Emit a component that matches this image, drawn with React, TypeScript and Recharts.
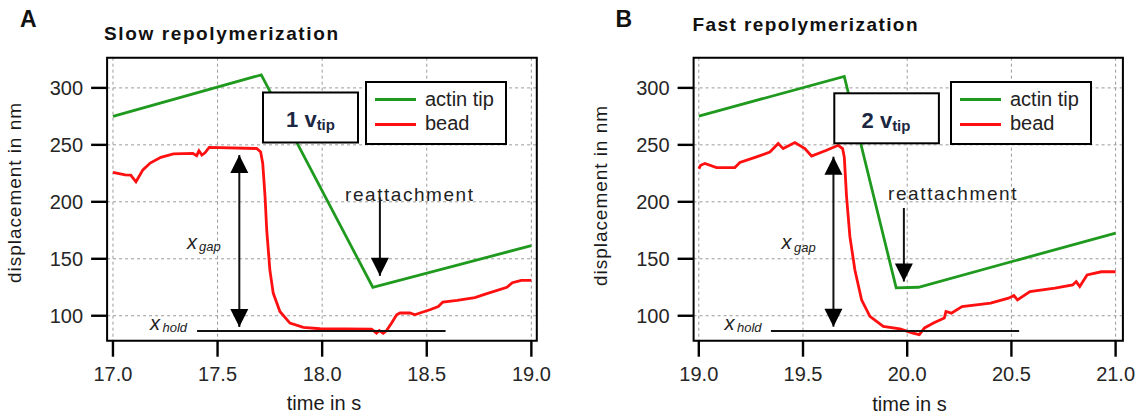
import {
  CartesianGrid,
  Legend,
  Line,
  LineChart,
  ReferenceArea,
  ReferenceDot,
  ReferenceLine,
  XAxis,
  YAxis,
} from 'recharts';

const FONT = '"Liberation Sans", Arial, sans-serif';
const GREEN = '#1f9a1f';
const RED = '#ff1010';
const INK = '#1a1a1a';

// shared axis values
const yTicks = [100, 150, 200, 250, 300];
const yDomain = [78.1, 326.5];

// panel A - slow repolymerization
const xTicksA = [17, 17.5, 18, 18.5, 19];
const tipTimeA = [17.0, 17.709, 18.242, 19.0];
const tipNmA = [275, 311.5, 125, 161.5];
const beadTimeA = [
  17.0, 17.058, 17.085, 17.11, 17.143, 17.178, 17.229, 17.289, 17.382, 17.4, 17.411, 17.425,
  17.44, 17.46, 17.687, 17.706, 17.716, 17.727, 17.735, 17.75, 17.766, 17.798, 17.846, 17.91,
  17.99, 18.236, 18.26, 18.273, 18.292, 18.308, 18.332, 18.356, 18.372, 18.42, 18.443, 18.467,
  18.515, 18.555, 18.577, 18.645, 18.73, 18.78, 18.883, 18.909, 18.952, 19.0,
];
const beadNmA = [
  225.9, 223.7, 223.5, 217.6, 228, 234, 239, 242, 242.5, 240.5, 244.8, 241,
  243, 247.8, 246.8, 243.8, 233.6, 204.5, 175.3, 140.3, 119.9, 103.8, 93.6, 89.8,
  88.6, 88.3, 84.7, 87, 84.7, 87, 93.6, 100.9, 102.4, 102.4, 100.9, 102.4,
  105.3, 108.1, 112, 113.5, 116, 119, 125, 129, 131, 131,
];

// panel B - fast repolymerization
const xTicksB = [19, 19.5, 20, 20.5, 21];
const tipTimeB = [19.0, 19.698, 19.947, 20.054, 21.0];
const tipNmB = [275.3, 310, 124.5, 125, 172.6];
const beadTimeB = [
  19.0, 19.009, 19.029, 19.085, 19.173, 19.197, 19.277, 19.341, 19.381, 19.405, 19.461, 19.509,
  19.541, 19.613, 19.669, 19.69, 19.698, 19.709, 19.725, 19.749, 19.781, 19.821, 19.885, 19.965,
  20.023, 20.058, 20.083, 20.126, 20.178, 20.186, 20.212, 20.263, 20.4, 20.486, 20.512, 20.529,
  20.589, 20.709, 20.794, 20.811, 20.828, 20.863, 20.931, 21.0,
];
const beadNmB = [
  229, 232.1, 233.6, 230.1, 230.1, 234.5, 239.4, 243.7, 251.1, 246.7, 252, 246.7,
  240.2, 245.2, 249.6, 246.7, 239.4, 204.4, 169.4, 140.2, 114, 99.4, 90.6, 88.4,
  84.9, 83.4, 89.3, 93.6, 98, 103.8, 102.3, 108, 111, 115.4, 117.7, 114,
  121.2, 124.2, 127, 130, 125.6, 135.8, 138.6, 138.6,
];

// annotation anchors: [gap arrow time, gap top nm, gap bottom nm]
const gapA = [17.604, 241, 90.1];
const gapB = [19.646, 239.6, 90.4];
// [hold from, hold to, hold nm]
const holdA = [17.402, 18.59, 86.6];
const holdB = [19.346, 20.537, 86.6];
// [reattachment time, shaft top nm, tip nm]
const reA = [18.276, 204, 135];
const reB = [19.984, 194.6, 130];

const zip = (t: number[], v: number[]) => t.map((x, i) => ({ t: x, nm: v[i] }));

const PLOT_TOP = 57.7;
const PLOT_BOTTOM = 340.7;
const TICK = 16;

const layoutA = { left: 0, frameL: 107.1, frameR: 536.8, xDomain: [16.972, 19.026], xTicks: xTicksA, legendLeft: 365 };
const layoutB = { left: 571, frameL: 122.6, frameR: 551.9, xDomain: [18.975, 21.035], xTicks: xTicksB, legendLeft: 378.6 };

const upHead = (p: any) => (
  <polygon points={`${p.cx},${p.cy} ${p.cx - 9},${p.cy + 18} ${p.cx + 9},${p.cy + 18}`} fill="#000" />
);
const downHead = (p: any) => (
  <polygon points={`${p.cx},${p.cy} ${p.cx - 9},${p.cy - 18} ${p.cx + 9},${p.cy - 18}`} fill="#000" />
);

function LegendBox({ payload }: any) {
  return (
    <svg width={142} height={64} style={{ display: 'block', overflow: 'visible' }}>
      <rect x={1} y={1} width={140} height={62} fill="#fff" stroke="#000" strokeWidth={2} />
      {(payload || []).map((item: any, i: number) => (
        <g key={item.value}>
          <line x1={10} x2={51} y1={18.5 + i * 25} y2={18.5 + i * 25} stroke={item.color} strokeWidth={3} />
          <text x={60} y={24.5 + i * 24.5} fontSize={20} fill="#222" fontFamily={FONT}>
            {item.value}
          </text>
        </g>
      ))}
    </svg>
  );
}

type Layout = typeof layoutA;
type PanelProps = {
  lay: Layout;
  tip: { t: number; nm: number }[];
  bead: { t: number; nm: number }[];
  gap: number[];
  hold: number[];
  re: number[];
};

function Panel({ lay, tip, bead, gap, hold, re }: PanelProps) {
  const W = 571;
  const H = 415;
  const { left, frameL, frameR, xDomain, xTicks, legendLeft } = lay;
  const tickText = { fontSize: 20, fill: '#262626' };
  return (
    <LineChart
      width={W}
      height={H}
      style={{ position: 'absolute', left, top: 0 }}
      margin={{ top: PLOT_TOP, right: W - frameR, bottom: H - PLOT_BOTTOM - 30, left: frameL - 50 }}
    >
      <CartesianGrid stroke="#9a9a9a" strokeDasharray="3 3" />
      <XAxis
        type="number"
        dataKey="t"
        domain={xDomain}
        allowDataOverflow
        ticks={xTicks}
        interval={0}
        tickFormatter={(v) => v.toFixed(1)}
        height={30}
        tickSize={17}
        tickMargin={9}
        axisLine={false}
        tickLine={false}
        tick={tickText}
      />
      <YAxis
        type="number"
        domain={yDomain}
        allowDataOverflow
        ticks={yTicks}
        interval={0}
        width={50}
        tickSize={16}
        tickMargin={8}
        axisLine={false}
        tickLine={false}
        tick={tickText}
      />
      <ReferenceArea
        x1={xDomain[0]}
        x2={xDomain[1]}
        y1={yDomain[0]}
        y2={yDomain[1]}
        fill="none"
        stroke="#000"
        strokeWidth={2}
        ifOverflow="visible"
      />
      <Line
        data={tip}
        dataKey="nm"
        name="actin tip"
        type="linear"
        stroke={GREEN}
        strokeWidth={2.8}
        dot={false}
        isAnimationActive={false}
      />
      <Line
        data={bead}
        dataKey="nm"
        name="bead"
        type="linear"
        stroke={RED}
        strokeWidth={2.8}
        dot={false}
        isAnimationActive={false}
      />
      <ReferenceLine
        segment={[{ x: hold[0], y: hold[2] }, { x: hold[1], y: hold[2] }]}
        stroke="#111"
        strokeWidth={2}
      />
      <ReferenceLine
        segment={[{ x: gap[0], y: gap[1] }, { x: gap[0], y: gap[2] }]}
        stroke="#111"
        strokeWidth={2}
      />
      <ReferenceDot x={gap[0]} y={gap[1]} r={1} shape={upHead} />
      <ReferenceDot x={gap[0]} y={gap[2]} r={1} shape={downHead} />
      <ReferenceLine
        segment={[{ x: re[0], y: re[1] }, { x: re[0], y: re[2] }]}
        stroke="#111"
        strokeWidth={2}
      />
      <ReferenceDot x={re[0]} y={re[2]} r={1} shape={downHead} />
      <Legend
        layout="vertical"
        align="center"
        verticalAlign="middle"
        wrapperStyle={{ left: legendLeft, top: 80.5, width: 142, height: 64 }}
        content={LegendBox}
      />
    </LineChart>
  );
}

// outer tick marks of one panel, placed from the same domain / frame numbers the chart uses
function TickMarks({ lay }: { lay: Layout }) {
  const [d0, d1] = lay.xDomain;
  const px = (t: number) => lay.left + lay.frameL + ((t - d0) / (d1 - d0)) * (lay.frameR - lay.frameL);
  const py = (v: number) => PLOT_TOP + ((yDomain[1] - v) / (yDomain[1] - yDomain[0])) * (PLOT_BOTTOM - PLOT_TOP);
  const x0 = lay.left + lay.frameL;
  return (
    <g stroke="#000" strokeWidth={2.4}>
      {lay.xTicks.map((t) => (
        <line key={`x${t}`} x1={px(t)} x2={px(t)} y1={PLOT_BOTTOM} y2={PLOT_BOTTOM + TICK} />
      ))}
      {yTicks.map((v) => (
        <line key={`y${v}`} x1={x0 - TICK} x2={x0} y1={py(v)} y2={py(v)} />
      ))}
    </g>
  );
}

function Overlay() {
  const it = { fontStyle: 'italic' as const, fill: '#222' };
  return (
    <svg
      width={1142}
      height={415}
      style={{ position: 'absolute', left: 0, top: 0, pointerEvents: 'none' }}
      fontFamily={FONT}
    >
      <TickMarks lay={layoutA} />
      <TickMarks lay={layoutB} />

      {/* panel A */}
      <text x={20} y={27} fontSize={23} fontWeight="bold" fill="#111">A</text>
      <text x={104} y={40} fontSize={19} fontWeight="bold" fill="#111" textLength={234}>
        Slow repolymerization
      </text>
      <text transform="translate(21,193) rotate(-90)" textAnchor="middle" fontSize={19} fill={INK} textLength={180}>
        displacement in nm
      </text>
      <text x={324} y={410} textAnchor="middle" fontSize={20} fill={INK}>time in s</text>
      <rect x={263} y={92.5} width={95} height={50} fill="#fff" stroke="#000" strokeWidth={2} />
      <text x={310.5} y={127} textAnchor="middle" fontSize={22} fontWeight="bold" fill="#1c2742">
        1 v<tspan fontSize={15} dy={3}>tip</tspan>
      </text>
      <text x={187} y={248.5} fontSize={20} {...it}>x</text>
      <text x={199} y={251} fontSize={13} {...it}>gap</text>
      <text x={150} y={330} fontSize={20} {...it}>x</text>
      <text x={162.5} y={331.5} fontSize={13} {...it}>hold</text>
      <text x={345} y={200.5} fontSize={19} fill="#222" textLength={128}>reattachment</text>

      {/* panel B */}
      <text x={615.5} y={26.5} fontSize={23} fontWeight="bold" fill="#111">B</text>
      <text x={692.5} y={31} fontSize={19} fontWeight="bold" fill="#111" textLength={225}>
        Fast repolymerization
      </text>
      <text transform="translate(607,196) rotate(-90)" textAnchor="middle" fontSize={19} fill={INK} textLength={180}>
        displacement in nm
      </text>
      <text x={909.5} y={411} textAnchor="middle" fontSize={20} fill={INK}>time in s</text>
      <rect x={834.3} y={93.3} width={104.6} height={50} fill="#fff" stroke="#000" strokeWidth={2} />
      <text x={886} y={127.5} textAnchor="middle" fontSize={22} fontWeight="bold" fill="#1c2742">
        2 v<tspan fontSize={15} dy={3}>tip</tspan>
      </text>
      <text x={781.5} y={249} fontSize={20} {...it}>x</text>
      <text x={794} y={251.5} fontSize={13} {...it}>gap</text>
      <text x={724.5} y={330} fontSize={20} {...it}>x</text>
      <text x={737} y={331.5} fontSize={13} {...it}>hold</text>
      <text x={888} y={200} fontSize={19} fill="#222" textLength={128.5}>reattachment</text>
    </svg>
  );
}

export default function App() {
  return (
    <div
      style={{
        position: 'absolute',
        left: 0,
        top: 0,
        width: 1142,
        height: 415,
        background: '#fff',
        fontFamily: FONT,
      }}
    >
      <Panel
        lay={layoutA}
        tip={zip(tipTimeA, tipNmA)}
        bead={zip(beadTimeA, beadNmA)}
        gap={gapA}
        hold={holdA}
        re={reA}
      />
      <Panel
        lay={layoutB}
        tip={zip(tipTimeB, tipNmB)}
        bead={zip(beadTimeB, beadNmB)}
        gap={gapB}
        hold={holdB}
        re={reB}
      />
      <Overlay />
    </div>
  );
}
